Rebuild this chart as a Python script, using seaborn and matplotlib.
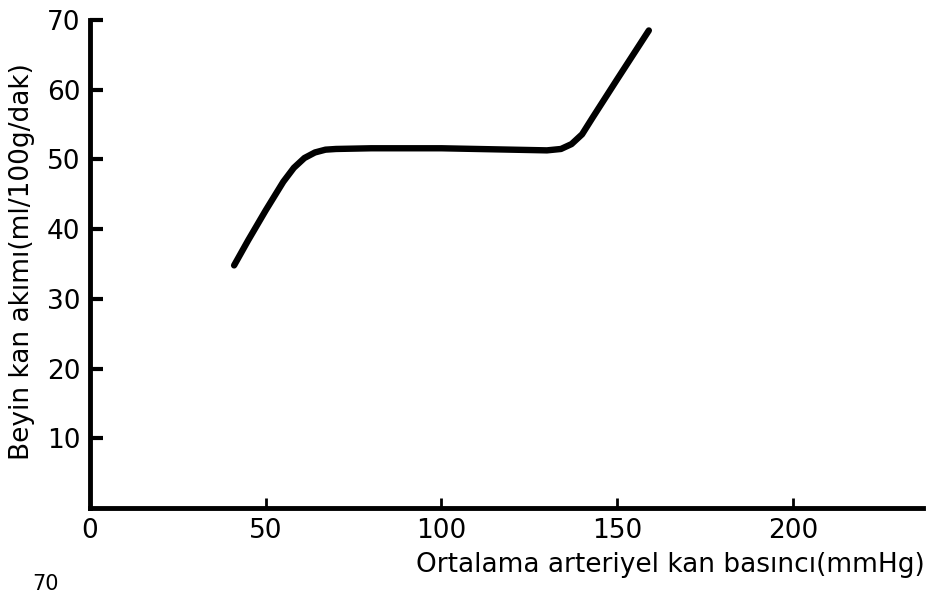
import matplotlib
matplotlib.use("Agg")
import matplotlib.pyplot as plt
import seaborn as sns
import pandas as pd

# Data
pressure = [41, 45, 50, 55, 58, 61, 64, 67, 70, 80, 100, 120, 130, 134, 137, 140, 143, 150, 159]
flow = [34.8, 38.4, 42.7, 46.8, 48.8, 50.2, 51.0, 51.4, 51.5, 51.6, 51.6, 51.4, 51.3, 51.5, 52.2, 53.6, 56.0, 61.5, 68.5]
x_ticks = [0, 50, 100, 150, 200]
y_ticks = [10, 20, 30, 40, 50, 60, 70]
x_label = "Ortalama arteriyel kan basıncı(mmHg)"
y_label = "Beyin kan akımı(ml/100g/dak)"

sns.set_style("ticks")
plt.rcParams['font.family'] = ['DejaVu Sans']
plt.rcParams['text.color'] = 'black'

df = pd.DataFrame({"x": pressure, "y": flow})

fig = plt.figure(figsize=(9.34, 5.94), dpi=100)
ax = fig.add_axes([90/934, 1-508/594, (923-90)/934, (508-20)/594])
sns.lineplot(data=df, x="x", y="y", ax=ax, color="black", linewidth=4.6,
             solid_capstyle="round", solid_joinstyle="round")

ax.set_xlim(0, 237)
ax.set_ylim(0, 70)
ax.set_xticks(x_ticks)
ax.set_yticks(y_ticks)
ax.set_xticklabels([str(v) for v in x_ticks])
ax.set_yticklabels([str(v) for v in y_ticks])
for s in ["top", "right"]:
    ax.spines[s].set_visible(False)
for s in ["left", "bottom"]:
    ax.spines[s].set_linewidth(3.5)
    ax.spines[s].set_color("black")
ax.tick_params(axis="y", direction="in", length=9, width=3, labelsize=19, pad=7,
               colors="black", labelcolor="black")
ax.tick_params(axis="x", direction="in", length=7, width=2, labelsize=19, pad=7,
               colors="black", labelcolor="black")
ax.set_xlabel("")
ax.set_ylabel("")
fig.text(0.99, 0.048, x_label, ha="right", va="center", fontsize=19, color="black")
fig.text(0.024, 0.56, y_label, ha="center", va="center", rotation=90, fontsize=19, color="black")
fig.text(0.035, 0.0, "70", ha="left", va="bottom", fontsize=15, color="black")

fig.savefig("out.png", dpi=100)
